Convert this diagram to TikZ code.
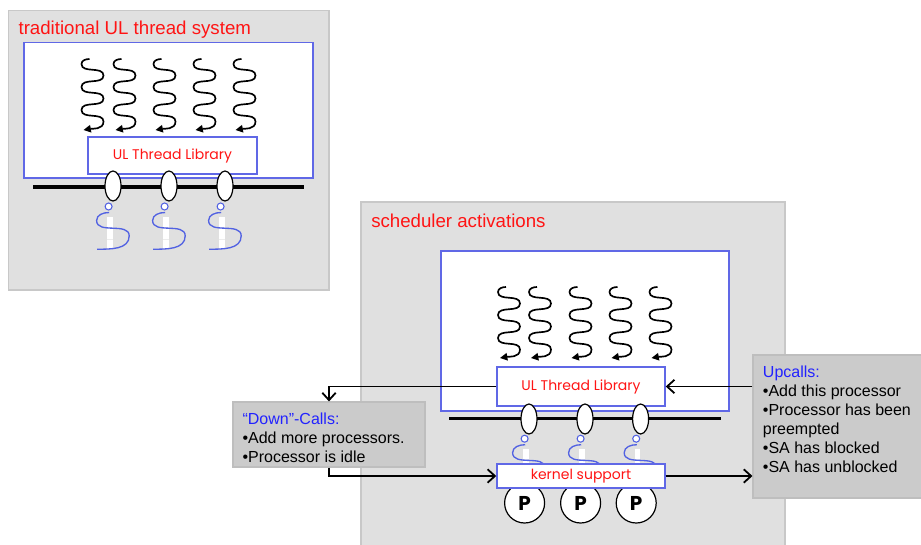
\documentclass[tikz,border=0pt]{standalone}
\usepackage{fontspec}
\setmainfont{Liberation Sans}
\newfontfamily\comicfont{Poppins}
\usetikzlibrary{arrows.meta,shapes.geometric,fit}

\definecolor{panelgray}{HTML}{E0E0E0}
\definecolor{panelline}{HTML}{C8C8C8}
\definecolor{boxblue}{HTML}{6068E6}
\definecolor{kblue}{HTML}{5262E2}
\definecolor{titlered}{HTML}{FF1414}
\definecolor{callgray}{HTML}{CBCBCB}
\definecolor{callline}{HTML}{BEBEBE}
\definecolor{headblue}{HTML}{2222FF}

\tikzset{
  % user-level thread: squiggle ending in a filled arrow tip
  uthread/.pic={
    \draw[line width=1.25pt,-{Triangle[length=5.5pt,width=5.5pt]}]
      (-3,0) to[out=180,in=90] (-11,5)
      to[out=-90,in=90] (11,16.5)
      to[out=-90,in=90] (-11,28)
      to[out=-90,in=90] (11,39.5)
      to[out=-90,in=90] (-11,51)
      to[out=-90,in=90] (11,62.5)
      to[out=-90,in=10] (-9,71);
  },
  % kernel thread: small head with a blue wave and a white strip behind it
  kthread/.pic={
    \fill[white] (-1.5,10.5) rectangle (4,42.7);
    \draw[panelgray!60!white,line width=0.5pt] (-1.5,21) -- (4,21) (-1.5,33) -- (4,33);
    \draw[kblue,line width=1pt]
      (0.6,6) to[out=180,in=90] (-12,14)
      to[out=-90,in=90] (20.6,29.4)
      to[out=-90,in=0] (-11.4,42.7);
    \draw[kblue,line width=0.8pt,fill=white] (0,0) circle (3.5);
  },
}

\begin{document}
\begin{tikzpicture}[x=0.75pt,y=-0.75pt,
  panel/.style={fill=panelgray,draw=panelline,line width=0.9pt},
  bluebox/.style={draw=boxblue,fill=white,line width=1.1pt,inner sep=0pt},
  libtext/.style={font=\comicfont\fontsize{10.5}{12}\selectfont,text=titlered},
  callbox/.style={fill=callgray,draw=callline,line width=0.8pt,inner sep=0pt},
  calltext/.style={font=\fontsize{12}{14.25}\selectfont,anchor=base west,inner sep=0pt},
  bar/.style={line width=2.6pt},
  ut/.style={ellipse,draw,fill=white,line width=0.9pt,minimum width=12pt,minimum height=22.5pt,inner sep=0pt},
  proc/.style={circle,draw,fill=white,line width=0.9pt,minimum size=30pt,inner sep=0pt,
    font=\comicfont\bfseries\fontsize{15}{18}\selectfont},
  flow/.style={-{Straight Barb[length=5.5pt,width=10pt]},line width=1.35pt},
  title/.style={anchor=base west,inner sep=0pt,text=titlered,font=\fontsize{14}{16}\selectfont},
]
\useasboundingbox (0,0) rectangle (921,544);
\fill[white] (0,0) rectangle (921,544);

% ---------------- traditional user-level threads ----------------
\node[panel,inner sep=0pt,fit={(8.5,10.5)(329,290)}] (panelA) {};
\node[title] (titleA) at (18.3,34) {traditional UL thread system};
\node[bluebox,fit={(24,42.5)(313,178)}] (userA) {};
\foreach \cx in {92.5,124.5,164.5,204.5,244.5}
  \pic at (\cx,59) {uthread};
\node[bluebox,libtext,minimum width=126.75pt,minimum height=27.75pt] (libA)
  at (172.5,155.5) {UL Thread Library};
\draw[bar] (33,187) coordinate (barAl) -- (304,187) coordinate (barAr);
\foreach \i/\cx in {1/113,2/169,3/225}{
  \pic at (\cx-4.4,206.5) {kthread};
  \node[ut] (utA\i) at (\cx,186) {};
}

% ---------------- scheduler activations ----------------
\node[panel,inner sep=0pt,fit={(361,202)(785,560)}] (panelB) {};
\node[title] (titleB) at (371,227) {scheduler activations};
\node[bluebox,fit={(441,251)(729,411)}] (userB) {};
\foreach \cx in {509,540,580.5,620.5,660.5}
  \pic at (\cx,287) {uthread};
\node[bluebox,libtext,minimum width=126pt,minimum height=29.25pt] (libB)
  at (581,386.5) {UL Thread Library};
\draw[bar] (449,418.5) coordinate (barBl) -- (721,418.5) coordinate (barBr);
\foreach \i/\cx in {1/529,2/585,3/640.6}{
  \pic at (\cx-4.4,438.7) {kthread};
  \node[ut] (utB\i) at (\cx,419) {};
  \node[proc] (p\i) at (\cx-4.4,503) {P};
}
\node[bluebox,libtext,minimum width=126pt,minimum height=18pt] (ks)
  at (581,476) {kernel support};

% ---------------- call boxes ----------------
\node[callbox,fit={(233,402)(425,467)}] (down) {};
\node[calltext] (downtext) at (242.3,424) {%
  \begin{tabular}[t]{@{}l@{}}
  \textcolor{headblue}{“Down”-Calls:}\\
  •Add more processors.\\
  •Processor is idle
  \end{tabular}};

\node[callbox,fit={(753,355)(930,498)}] (up) {};
\node[calltext] (uptext) at (762.7,377) {%
  \begin{tabular}[t]{@{}l@{}}
  \textcolor{headblue}{Upcalls:}\\
  •Add this processor\\
  •Processor has been\\
  preempted\\
  •SA has blocked\\
  •SA has unblocked
  \end{tabular}};

% ---------------- call flow ----------------
\draw[flow] (libB.west) -| (down.north);
\draw[flow] (down.south) |- (ks.west);
\draw[flow] (up.west |- libB.east) -- (libB.east);
\draw[flow] (ks.east) -- (ks.east -| up.west);
\end{tikzpicture}
\end{document}
